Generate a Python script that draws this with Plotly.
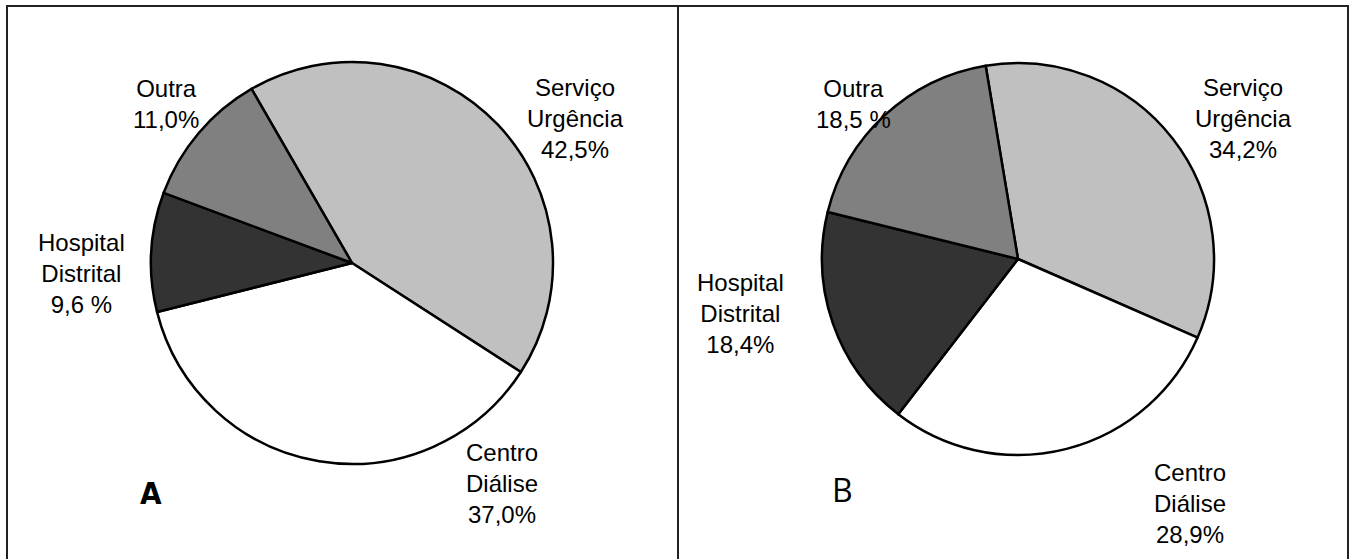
import plotly.graph_objects as go

W, H = 1349, 559

# Categorias e percentagens dos dois painéis
categorias = ["Serviço<br>Urgência", "Centro<br>Diálise", "Hospital<br>Distrital", "Outra"]
valores_a = [42.5, 37.0, 9.6, 11.0]
valores_b = [34.2, 28.9, 18.4, 18.5]
sufixos_a = ["%", "%", " %", "%"]
sufixos_b = ["%", "%", "%", " %"]
cores = ["#c0c0c0", "#ffffff", "#333333", "#808080"]


def px(x, y):
    """Pixel position -> paper coordinates."""
    return x / W, 1 - y / H


def dominio(cx, cy, r):
    x0, y1 = px(cx - r, cy - r)
    x1, y0 = px(cx + r, cy + r)
    return dict(x=[x0, x1], y=[y0, y1])


def rotulo(cat, v, suf):
    return f"{cat}<br>{v:.1f}".replace(".", ",") + suf


fig = go.Figure()

fig.add_trace(go.Pie(
    labels=categorias, values=valores_a, sort=False, direction="clockwise",
    rotation=-30, marker=dict(colors=cores, line=dict(color="#000000", width=2.5)),
    textinfo="none", hoverinfo="label+value", showlegend=False,
    domain=dominio(352, 263, 201),
))
fig.add_trace(go.Pie(
    labels=categorias, values=valores_b, sort=False, direction="clockwise",
    rotation=-9.5, marker=dict(colors=cores, line=dict(color="#000000", width=2.5)),
    textinfo="none", hoverinfo="label+value", showlegend=False,
    domain=dominio(1018, 259, 196),
))

fonte = dict(family="Liberation Sans, Arial, sans-serif", size=24, color="#000000")

# Centro dos blocos de texto (px) por categoria, em cada painel
pos_a = [(575, 118), (502, 483), (81, 273), (166, 104)]
pos_b = [(1243, 118), (1190, 503), (740, 313), (853, 104)]

anot = []
for vals, sufs, pos in ((valores_a, sufixos_a, pos_a), (valores_b, sufixos_b, pos_b)):
    for cat, v, suf, (x, y) in zip(categorias, vals, sufs, pos):
        xp, yp = px(x, y)
        anot.append(dict(x=xp, y=yp, xref="paper", yref="paper", text=rotulo(cat, v, suf),
                         showarrow=False, font=fonte, align="center",
                         xanchor="center", yanchor="middle"))

xa, ya = px(151, 493)
anot.append(dict(x=xa, y=ya, xref="paper", yref="paper", text="<b>A</b>", showarrow=False,
                 font=dict(family="Liberation Sans Narrow, DejaVu Sans Condensed, sans-serif",
                           size=31, color="#000000"),
                 xanchor="center", yanchor="middle"))
xb, yb = px(842, 489)
anot.append(dict(x=xb, y=yb, xref="paper", yref="paper", text="B", showarrow=False,
                 font=dict(family="Open Sans, sans-serif", size=32, color="#000000"),
                 xanchor="center", yanchor="middle"))

# Molduras dos dois painéis
formas = []
for x0, x1 in ((7, 678), (678, 1348)):
    p0 = px(x0, 6)
    p1 = px(x1, 600)
    formas.append(dict(type="rect", xref="paper", yref="paper", x0=p0[0], x1=p1[0],
                       y0=p1[1], y1=p0[1], line=dict(color="#222222", width=2)))

fig.update_layout(
    width=W, height=H, margin=dict(l=0, r=0, t=0, b=0),
    paper_bgcolor="#ffffff", plot_bgcolor="#ffffff",
    annotations=anot, shapes=formas,
)

fig.write_html("out.html")
